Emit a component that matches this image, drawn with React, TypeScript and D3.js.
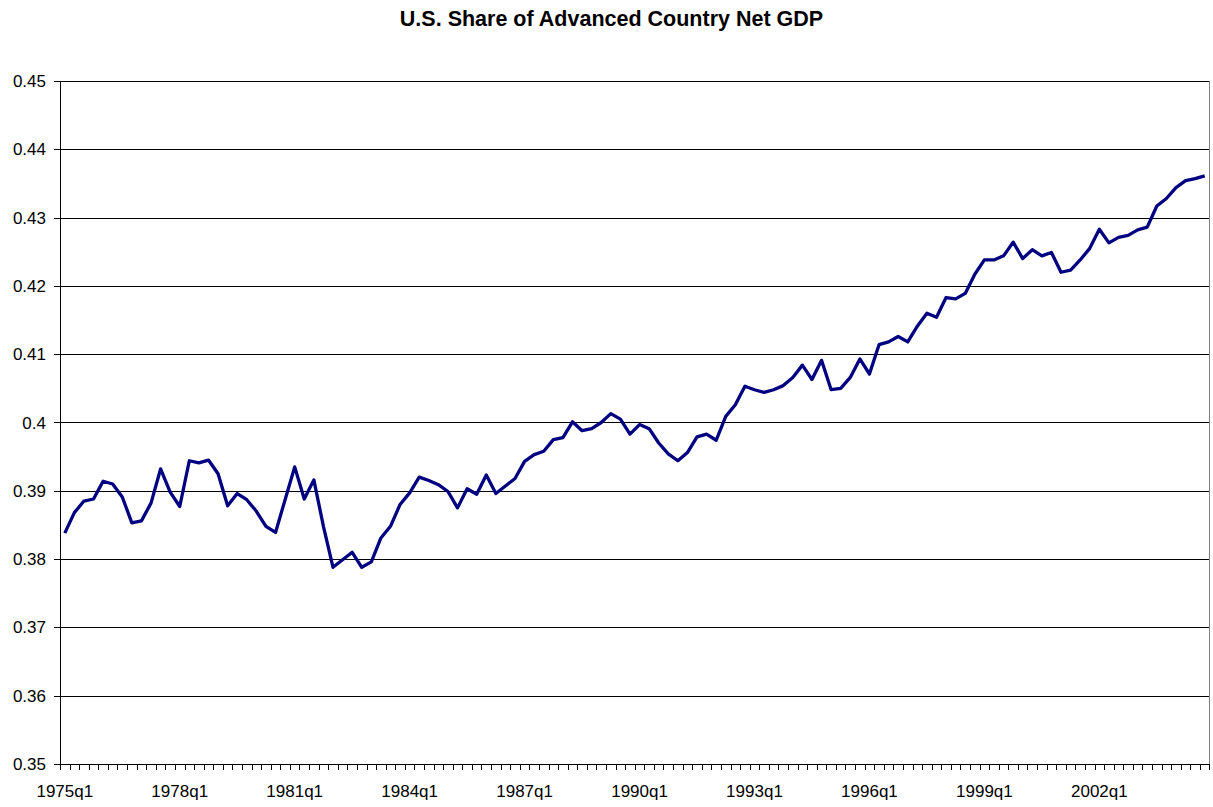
import * as d3 from 'd3';

const W = 1213;
const H = 807;

const startYear = 1975;
const quarterCount = 120;

// U.S. share, 1975q1 .. 2004q4
const shareValues = [
  0.3838, 0.3868, 0.3885, 0.3888, 0.3914, 0.3910, 0.3891, 0.3853, 0.3856, 0.3882,
  0.3932, 0.3898, 0.3877, 0.3944, 0.3941, 0.3945, 0.3925, 0.3878, 0.3896, 0.3887,
  0.3870, 0.3848, 0.3839, 0.3887, 0.3935, 0.3888, 0.3916, 0.3848, 0.3788, 0.3799,
  0.3810, 0.3788, 0.3796, 0.3831, 0.3848, 0.3880, 0.3897, 0.3920, 0.3915, 0.3909,
  0.3899, 0.3875, 0.3903, 0.3895, 0.3923, 0.3896, 0.3907, 0.3918, 0.3943, 0.3953,
  0.3958, 0.3975, 0.3978, 0.4001, 0.3988, 0.3991, 0.4000, 0.4013, 0.4005, 0.3983,
  0.3997, 0.3991, 0.3970, 0.3954, 0.3944, 0.3956, 0.3979, 0.3983, 0.3974, 0.4009,
  0.4026, 0.4053, 0.4048, 0.4044, 0.4048, 0.4054, 0.4066, 0.4084, 0.4063, 0.4091,
  0.4048, 0.4050, 0.4066, 0.4093, 0.4071, 0.4114, 0.4118, 0.4126, 0.4118, 0.4141,
  0.4160, 0.4154, 0.4183, 0.4181, 0.4189, 0.4217, 0.4238, 0.4238, 0.4244, 0.4264,
  0.4240, 0.4253, 0.4244, 0.4249, 0.4220, 0.4223, 0.4238, 0.4255, 0.4283, 0.4263,
  0.4271, 0.4274, 0.4282, 0.4286, 0.4317, 0.4328, 0.4344, 0.4354, 0.4357, 0.4361,
];

const xTickLabels = ['1975q1', '1978q1', '1981q1', '1984q1', '1987q1', '1990q1', '1993q1', '1996q1', '1999q1', '2002q1'];
const yTicks = [0.35, 0.36, 0.37, 0.38, 0.39, 0.4, 0.41, 0.42, 0.43, 0.44, 0.45];

const quarters = d3.range(quarterCount).map(
  (i) => `${startYear + Math.floor(i / 4)}q${(i % 4) + 1}`
);

export default function App() {
  const left = 60;
  const right = 1209.5;
  const top = 81;
  const bottom = 764;

  const x = d3.scaleBand<string>().domain(quarters).range([left, right]).padding(0);
  const y = d3.scaleLinear().domain([0.35, 0.45]).range([bottom, top]);

  const line = d3
    .line<number>()
    .x((_, i) => x(quarters[i])! + x.bandwidth() / 2)
    .y((d) => y(d));

  const font = 'Arial, "Liberation Sans", sans-serif';

  return (
    <svg
      width={W}
      height={H}
      style={{ position: 'absolute', left: 0, top: 0, background: '#fff' }}
      fontFamily={font}
    >
      <text x={611.5} y={26} textAnchor="middle" fontSize={21.5} fontWeight="bold">
        U.S. Share of Advanced Country Net GDP
      </text>

      {/* gridlines */}
      {yTicks.map((t) => (
        <line
          key={t}
          x1={left}
          x2={right}
          y1={Math.round(y(t)) + 0.5}
          y2={Math.round(y(t)) + 0.5}
          stroke="#000"
          strokeWidth={1}
        />
      ))}
      <line x1={right} x2={right} y1={top} y2={bottom} stroke="#808080" strokeWidth={1} />

      {/* y axis */}
      <line x1={left + 0.5} x2={left + 0.5} y1={top} y2={bottom + 1} stroke="#000" />
      {yTicks.map((t) => (
        <g key={t}>
          <line
            x1={left - 6}
            x2={left}
            y1={Math.round(y(t)) + 0.5}
            y2={Math.round(y(t)) + 0.5}
            stroke="#000"
          />
          <text x={46} y={y(t) + 6} textAnchor="end" fontSize={17}>
            {String(t)}
          </text>
        </g>
      ))}

      {/* x axis */}
      <line x1={left} x2={right} y1={bottom + 0.5} y2={bottom + 0.5} stroke="#000" />
      {quarters.map((q) => (
        <line
          key={q}
          x1={Math.round(x(q)!) + 0.5}
          x2={Math.round(x(q)!) + 0.5}
          y1={bottom}
          y2={bottom + 6}
          stroke="#000"
        />
      ))}
      <line x1={right} x2={right} y1={bottom} y2={bottom + 6} stroke="#000" />
      {xTickLabels.map((lab) => (
        <text
          key={lab}
          x={x(lab)! + x.bandwidth() / 2}
          y={797}
          textAnchor="middle"
          fontSize={17}
        >
          {lab}
        </text>
      ))}

      <path
        d={line(shareValues) ?? ''}
        fill="none"
        stroke="#000080"
        strokeWidth={3.3}
        strokeLinejoin="round"
      />
    </svg>
  );
}
